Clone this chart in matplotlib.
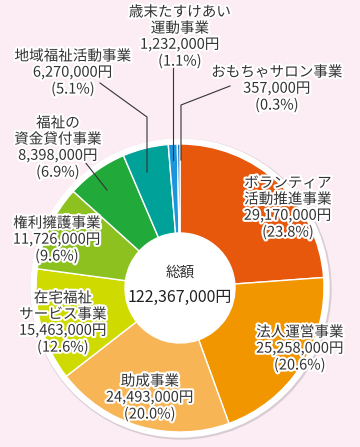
import matplotlib.pyplot as plt
import matplotlib.patheffects as pe
from matplotlib.patches import Circle

plt.rcParams['font.family'] = ['Noto Sans CJK JP', 'DejaVu Sans']

# data, clockwise from 12 o'clock
names = ['ボランティア\n活動推進事業', '法人運営事業', '助成事業', '在宅福祉\nサービス事業',
         '権利擁護事業', '福祉の\n資金貸付事業', '地域福祉活動事業', '歳末たすけあい\n運動事業',
         'おもちゃサロン事業']
amounts = [29170000, 25258000, 24493000, 15463000, 11726000, 8398000, 6270000, 1232000, 357000]
percents = ['23.8%', '20.6%', '20.0%', '12.6%', '9.6%', '6.9%', '5.1%', '1.1%', '0.3%']
total = 122367000
colors = ['#e8580c', '#f29600', '#f7b556', '#cfdb00', '#8cc11f', '#21aa3a', '#00a199',
          '#1a97dc', '#0b6db7']

W, H = 360, 447
bg = '#fbedf3'

fig = plt.figure(figsize=(3.6, 4.47), dpi=100, facecolor=bg)
ax = fig.add_axes([0, 0, 1, 1])
ax.set_xlim(0, W)
ax.set_ylim(0, H)
ax.set_aspect('equal')
ax.axis('off')

cx, cy = 180, H - 288
R = 144
r_in = 55

# white rim behind the pie
ax.add_patch(Circle((cx + 1, cy - 1), R + 6, color='#d9cdd3', zorder=0))
ax.add_patch(Circle((cx, cy), R + 5, color='white', zorder=1))

wedges, _ = ax.pie(amounts, colors=colors, startangle=90, counterclock=False,
                   center=(cx, cy), radius=R, frame=True,
                   wedgeprops=dict(width=R - r_in, edgecolor='white', linewidth=1))
for w in wedges:
    w.set_zorder(2)
ax.set_xlim(0, W)
ax.set_ylim(0, H)
ax.axis('off')

halo = [pe.withStroke(linewidth=3, foreground='white')]

# label positions (image pixel coords of block centre)
label_pos = [(288, 208), (300, 349), (150, 398), (63, 323), (57, 240),
             (58, 148), (73, 73), (180, 37), (277, 89)]
for name, amt, pct, (x, y) in zip(names, amounts, percents, label_pos):
    txt = f'{name}\n{amt:,}円\n({pct})'
    ax.text(x, H - y, txt, ha='center', va='center', fontsize=10.5, color='#333333',
            linespacing=1.2, path_effects=halo, zorder=5)

# leader lines
leaders = [
    [(173, 67), (173, 160)],
    [(230, 86), (181, 105), (181, 160)],
    [(100, 83), (147, 117), (147, 172)],
    [(85, 162), (107, 190)],
]
for pts in leaders:
    xs = [p[0] for p in pts]
    ys = [H - p[1] for p in pts]
    ax.plot(xs, ys, color='#333333', linewidth=0.8, zorder=4)

ax.text(cx, H - 273, '総額', ha='center', va='center', fontsize=10.5, color='#333333', zorder=5)
ax.text(cx, H - 297, f'{total:,}円', ha='center', va='center', fontsize=11.5,
        color='#222222', zorder=5)

fig.savefig('out.png', dpi=100, facecolor=bg)
